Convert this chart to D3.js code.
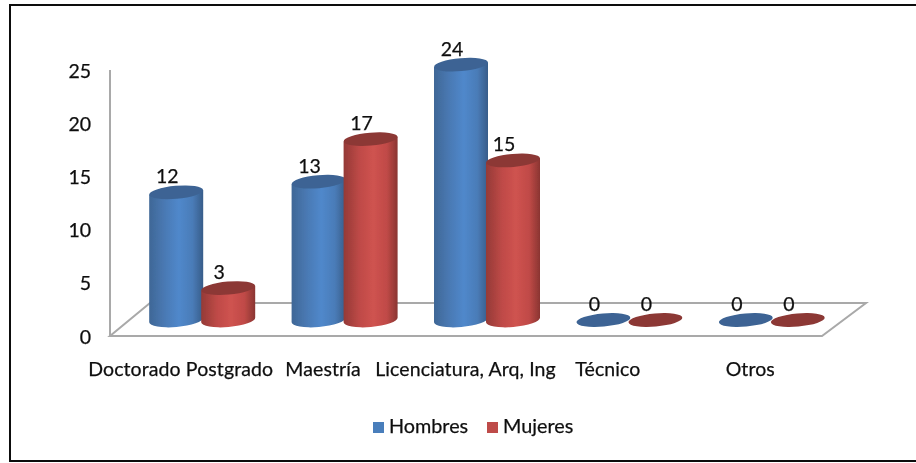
<!DOCTYPE html>
<html><head><meta charset="utf-8">
<script src="https://d3js.org/d3.v7.min.js"></script>
<style>html,body{margin:0;padding:0;background:#fff;overflow:hidden}svg{display:block}text{font-family:Lato,"Open Sans",sans-serif;fill:#111;stroke:#111;stroke-width:.25}</style>
</head><body><svg id="c" width="916" height="463"></svg>
<script>
const categories=["Doctorado Postgrado","Maestría","Licenciatura, Arq, Ing","Técnico","Otros"];
const seriesNames=["Hombres","Mujeres"];
const hombres=[12,13,24,0,0];
const mujeres=[3,17,15,0,0];
const yTicks=[0,5,10,15,20,25];
const svg=d3.select("#c");
const defs=svg.append("defs");
function grad(id,stops){const g=defs.append("linearGradient").attr("id",id);
 stops.forEach(s=>g.append("stop").attr("offset",s[0]).attr("stop-color",s[1]));}
grad("gb",[[0,"#3f6796"],[.3,"#4a7ab5"],[.55,"#5088cb"],[.8,"#4a7cb8"],[1,"#385d8a"]]);
grad("gr",[[0,"#943a37"],[.3,"#bf4a47"],[.55,"#cf5350"],[.8,"#c04a47"],[1,"#8a3532"]]);
defs.append("filter").attr("id","soft").append("feGaussianBlur").attr("stdDeviation",0.45);
const colors=[{g:"url(#gb)",top:"#3c6494",leg:"#4a7ebb"},{g:"url(#gr)",top:"#8c3836",leg:"#be4b48"}];
const root=svg.append("g").attr("filter","url(#soft)");
root.append("rect").attr("width",916).attr("height",463).attr("fill","#fff");
root.append("rect").attr("x",10).attr("y",5).attr("width",920).attr("height",456).attr("fill","#fff").attr("stroke","#111").attr("stroke-width",2);
const yAxis=d3.scaleLinear().domain([0,25]).range([336,70]);
const yBar=d3.scaleLinear().domain([0,25]).range([320,54]);
const x0=d3.scaleBand().domain(categories).range([133,845]);
const cx=(c,i)=>x0(c)+x0.bandwidth()/2+(i===0?-26:26)-2;
const gray="#a9a9a9";
const floor=[[110,336],[822,336],[866,303],[150,303]];
root.append("path").attr("d",d3.line()(floor)+"Z").attr("fill","#fff").attr("stroke",gray).attr("stroke-width",2);
root.append("line").attr("x1",110).attr("x2",110).attr("y1",yAxis(25)).attr("y2",336).attr("stroke",gray).attr("stroke-width",2);
root.selectAll("text.yt").data(yTicks).join("text").attr("class","yt").attr("x",91).attr("y",d=>yAxis(d)+7.5)
 .attr("text-anchor","end").attr("font-size",19.5).text(d=>d);
const rx=27,ry=7,tilt=-5;
function cyl(c,v,i){
 const x=cx(c,i),yb=yBar(0),yt=yBar(v),col=colors[i];
 const g=root.append("g");
 if(v>0){
  g.append("path").attr("d",`M${x-rx},${yt+2.3} L${x-rx},${yb+2.3} A${rx},${ry} ${tilt} 0 0 ${x+rx},${yb-2.3} L${x+rx},${yt-2.3} Z`).attr("fill",col.g);
 }
 g.append("ellipse").attr("cx",x).attr("cy",v>0?yt:yb).attr("rx",rx).attr("ry",ry-.5)
  .attr("transform",`rotate(${tilt} ${x} ${v>0?yt:yb})`).attr("fill",col.top);
 g.append("text").attr("x",x-9).attr("y",v>0?yt-9:yb-9).attr("text-anchor","middle").attr("font-size",19.5).text(v);
}
categories.forEach((c,k)=>{cyl(c,hombres[k],0);cyl(c,mujeres[k],1);});
root.selectAll("text.xt").data(categories).join("text").attr("class","xt").attr("x",d=>x0(d)+x0.bandwidth()/2-23.5)
 .attr("y",376).attr("text-anchor","middle").attr("font-size",19.5).attr("letter-spacing",0.1).text(d=>d);
const lx=[373,487];
seriesNames.forEach((n,i)=>{
 root.append("rect").attr("x",lx[i]).attr("y",422).attr("width",11).attr("height",11).attr("fill",colors[i].leg);
 root.append("text").attr("x",lx[i]+16).attr("y",433).attr("font-size",19.8).text(n);
});
</script></body></html>
